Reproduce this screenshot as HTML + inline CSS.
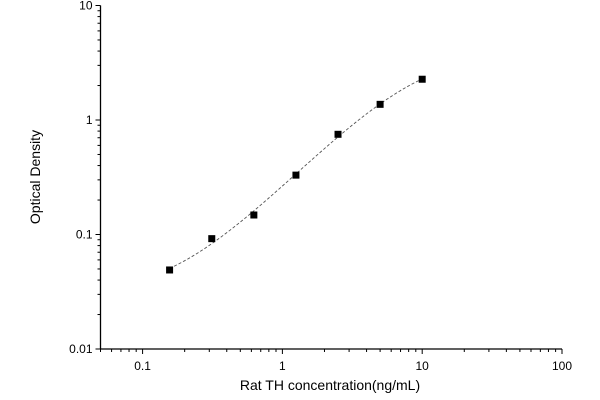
<!DOCTYPE html>
<html><head><meta charset="utf-8"><style>
body{margin:0;background:#fff}
svg{display:block;font-family:"Liberation Sans",Arial,sans-serif}
</style></head><body>
<svg id="c" width="600" height="400"></svg>
<script>
const concentrations=[0.156,0.3125,0.625,1.25,2.5,5,10];
const densities=[0.049,0.092,0.148,0.33,0.75,1.37,2.27];
const xTickLabels=["0.1","1","10","100"];
const xTickValues=[0.1,1,10,100];
const yTickLabels=["0.01","0.1","1","10"];
const yTickValues=[0.01,0.1,1,10];

const NS="http://www.w3.org/2000/svg";
const svg=document.getElementById('c');
const X0=100.5,X1=562,Y0=349,Y1=5.5;
const xmin=Math.log10(0.05),xmax=2,ymin=-2,ymax=1;
const sx=v=>X0+(Math.log10(v)-xmin)/(xmax-xmin)*(X1-X0);
const sy=v=>Y0-(Math.log10(v)-ymin)/(ymax-ymin)*(Y0-Y1);
function mk(t,a,p){const e=document.createElementNS(NS,t);for(const k in a)e.setAttribute(k,a[k]);(p||svg).appendChild(e);return e;}

const axes=mk('g',{});


mk('line',{x1:X0,y1:Y1,x2:X0,y2:Y0,stroke:'#000','stroke-width':1.3},axes);
mk('line',{x1:X0,y1:Y0,x2:X1,y2:Y0,stroke:'#000','stroke-width':1.3},axes);
for(let d=-2;d<2;d++){for(let m=1;m<10;m++){const v=m*Math.pow(10,d);if(v<0.05-1e-9||v>100)continue;
 const x=sx(v);mk('line',{x1:x,y1:Y0,x2:x,y2:Y0+(m==1?5:3),stroke:'#000'},axes);}}
{const x=sx(100);mk('line',{x1:x,y1:Y0,x2:x,y2:Y0+5,stroke:'#000'},axes);}
for(let d=-2;d<1;d++){for(let m=1;m<10;m++){const v=m*Math.pow(10,d);const y=sy(v);
 mk('line',{x1:X0,y1:y,x2:X0-(m==1?5:3),y2:y,stroke:'#000'},axes);}}
{const y=sy(10);mk('line',{x1:X0,y1:y,x2:X0-5,y2:y,stroke:'#000'},axes);}
xTickValues.forEach((v,i)=>{const t=mk('text',{x:sx(v),y:Y0+21,'text-anchor':'middle','font-size':12},axes);t.textContent=xTickLabels[i];

});
yTickValues.forEach((v,i)=>{const t=mk('text',{x:X0-8,y:sy(v)+4,'text-anchor':'end','font-size':12},axes);t.textContent=yTickLabels[i];

});
const xt=mk('text',{x:330,y:390,'text-anchor':'middle','font-size':14});
xt.textContent='Rat TH concentration(ng/mL)';


const yt=mk('text',{x:0,y:0,'text-anchor':'middle','font-size':14,transform:'translate(40,177) rotate(-90)'});
yt.textContent='Optical Density';



// cubic least-squares fit in log-log space
const lx=concentrations.map(Math.log10), ly=densities.map(Math.log10);
const n=4, A=[], B=[];
for(let i=0;i<n;i++){A.push([]);for(let j=0;j<n;j++){let s=0;lx.forEach(x=>s+=Math.pow(x,i+j));A[i].push(s);}
 let s=0;lx.forEach((x,k)=>s+=Math.pow(x,i)*ly[k]);B.push(s);}
for(let i=0;i<n;i++){let p=i;for(let r=i+1;r<n;r++)if(Math.abs(A[r][i])>Math.abs(A[p][i]))p=r;
 [A[i],A[p]]=[A[p],A[i]];[B[i],B[p]]=[B[p],B[i]];
 for(let r=0;r<n;r++){if(r==i)continue;const f=A[r][i]/A[i][i];for(let c=i;c<n;c++)A[r][c]-=f*A[i][c];B[r]-=f*B[i];}}
const coef=B.map((b,i)=>b/A[i][i]);
const fit=x=>coef.reduce((s,c,i)=>s+c*Math.pow(x,i),0);
let d='';const a0=lx[0],a1=lx[lx.length-1];
for(let k=0;k<=100;k++){const x=a0+(a1-a0)*k/100;d+=(k?'L':'M')+sx(Math.pow(10,x)).toFixed(2)+','+sy(Math.pow(10,fit(x))).toFixed(2);}
const line=mk('path',{d:d,fill:'none',stroke:'#555','stroke-width':0.9,'stroke-dasharray':'3,2'});


concentrations.forEach((c,i)=>{const r=mk('rect',{x:sx(c)-3.5,y:sy(densities[i])-3.5,width:7,height:7,fill:'#000'});

});
</script>
</body></html>
